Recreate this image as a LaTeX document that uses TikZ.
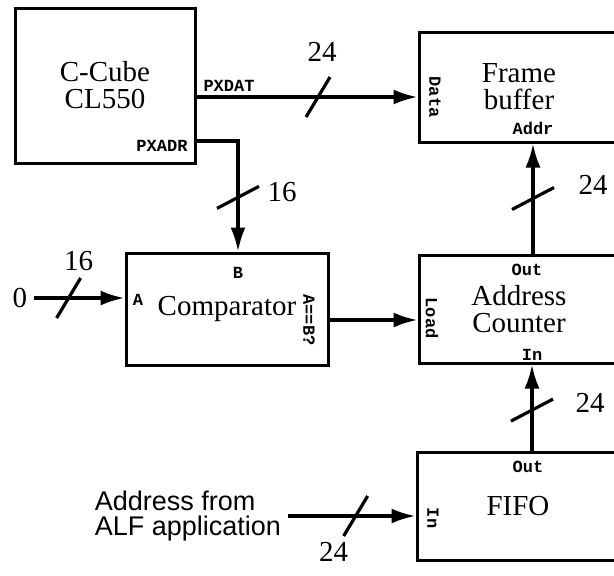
\documentclass[tikz,border=0pt]{standalone}
\usepackage{fontspec}
\setmainfont{Liberation Serif}
\newfontfamily\pinfnt{Liberation Mono}
\newfontfamily\notefnt{Liberation Sans}
\usetikzlibrary{arrows.meta,calc}
\tikzset{
  hbus/.pic={\draw[-,line width=1.6pt] (-12,20)--(12,-20);},
  vbus/.pic={\draw[-,line width=1.6pt] (-21,11)--(21,-11);}
}
\begin{document}
\begin{tikzpicture}[x=.5pt,y=-.5pt,>={Latex[length=12pt,width=7.5pt]},
    blk/.style={draw,line width=1.5pt,align=center,font=\fontsize{14.5}{13.5}\selectfont},
    pin/.style={font=\pinfnt\bfseries\fontsize{8.5}{9}\selectfont,inner sep=0pt},
    wire/.style={line width=1.6pt},
    num/.style={font=\fontsize{14.5}{15}\selectfont}]
        \clip (0,0) rectangle (614,575);
        % blocks
        \node[blk,minimum width=90pt,minimum height=77.5pt] (ccube) at (105,85.5) {C-Cube\\CL550};
        \node[blk,minimum width=101pt,minimum height=56pt] (cmp) at (227,309) {Comparator};
        \node[blk,minimum width=100pt,minimum height=55pt] (fb) at (519,87) {Frame\\buffer};
        \node[blk,minimum width=100pt,minimum height=54pt] (ac) at (519,309) {Address\\Counter};
        \node[blk,minimum width=101pt,minimum height=54pt] (fifo) at (518,506) {FIFO};
        % pin labels
        \node[pin] (pxdat) at (229,86) {PXDAT};
        \node[pin] (pxadr) at (162,146) {PXADR};
        \node[pin,rotate=-90] (datpin) at (435,97) {Data};
        \node[pin] (addrpin) at (533,128) {Addr};
        \node[pin] (bpin) at (238,273) {B};
        \node[pin] (apin) at (138,300) {A};
        \node[pin,rotate=-90] (eqpin) at (309,320) {A==B?};
        \node[pin,rotate=-90] (loadpin) at (432,318) {Load};
        \node[pin] (acout) at (527,270) {Out};
        \node[pin] (acin) at (532,355) {In};
        \node[pin] (fifoout) at (528,467) {Out};
        \node[pin,rotate=-90] (fifoin) at (433,518) {In};
        % inputs
        \node[num] (zero) at (20,298) {0};
        \node[font=\notefnt\fontsize{13.5}{12.5}\selectfont,align=left] (alf) at (188,516) {Address from\\ALF application};
        \coordinate (adrout) at ($(ccube.east)+(0,55.5)$);
        % buses
        \draw[wire,->] (ccube.east |- datpin) -- pic[pos=.55]{hbus}
            node[num,pos=.55,xshift=2pt,yshift=22.5pt]{24} (fb.west |- datpin);
        \draw[wire,->] (adrout) -- (adrout -| bpin) -- pic[pos=.51]{vbus}
            node[num,pos=.51,xshift=22pt,yshift=2.5pt]{16} (bpin |- cmp.north);
        \draw[wire,->] (zero.east) -- pic[pos=.38]{hbus}
            node[num,pos=.38,xshift=5pt,yshift=18.5pt]{16} (cmp.west |- zero);
        \draw[wire,->] (cmp.east |- eqpin) -- (ac.west |- eqpin);
        \draw[wire,->] (addrpin |- ac.north) -- pic[pos=.5]{vbus}
            node[num,pos=.5,xshift=30pt,yshift=7pt]{24} (addrpin |- fb.south);
        \draw[wire,->] (acin |- fifo.north) -- pic[pos=.47]{vbus}
            node[num,pos=.47,xshift=29pt,yshift=3.5pt]{24} (acin |- ac.south);
        \draw[wire,->] (alf.east) -- pic[pos=.53]{hbus}
            node[num,pos=.53,xshift=-11pt,yshift=-18pt]{24} (fifo.west |- alf);
    \end{tikzpicture}
\end{document}
